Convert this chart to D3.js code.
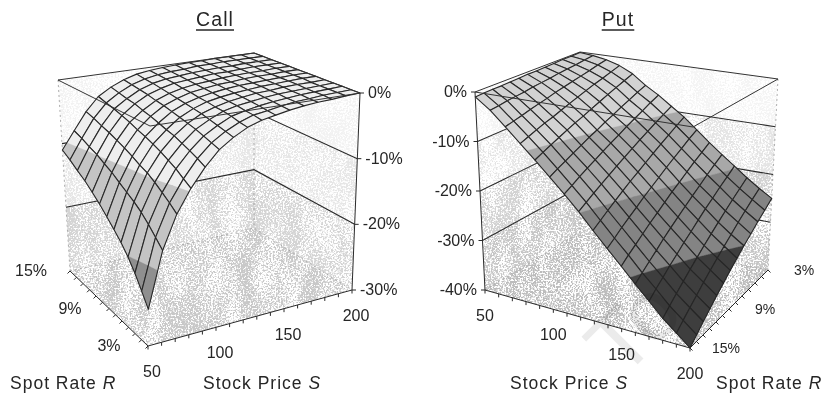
<!DOCTYPE html>
<html>
<head>
<meta charset="utf-8">
<script src="https://cdnjs.cloudflare.com/ajax/libs/d3/7.8.5/d3.min.js"></script>
<style>
  html, body { margin: 0; padding: 0; background: #fff; }
  svg { display: block; filter: blur(0.4px); }
  text { font-family: "Liberation Sans", Arial, sans-serif; fill: #262626; }
</style>
</head>
<body>
<script>
const width = 825
const height = 393

// grid of the surfaces
const stockPrices = [50, 60, 70, 80, 90, 100, 110, 120, 130, 140, 150, 160, 170, 180, 190, 200]
const spotRates = [3, 4, 5, 6, 7, 8, 9, 10, 11, 12, 13, 14, 15]

// tick labels
const stockTicks = [50, 100, 150, 200]
const rateTicks = [3, 9, 15]
const callValueTicks = [0, -10, -20, -30]
const putValueTicks = [0, -10, -20, -30, -40]

// one row per stock price, one column per spot rate (percent change)
const callValues = [
  [-25, -23.3, -21.6, -20.1, -18.8, -17.7, -16.6, -15.5, -14.5, -13.5, -12.7, -11.8, -11],
  [-17.4, -16.3, -15.2, -14.2, -13.4, -12.7, -12, -11.2, -10.6, -9.9, -9.4, -8.8, -8.3],
  [-12.8, -11.9, -11.1, -10.3, -9.6, -9.1, -8.5, -7.9, -7.4, -6.9, -6.5, -6, -5.6],
  [-9.6, -8.9, -8.1, -7.5, -6.9, -6.4, -5.9, -5.5, -5, -4.6, -4.2, -3.9, -3.5],
  [-7, -6.4, -5.9, -5.4, -4.9, -4.6, -4.2, -3.8, -3.5, -3.1, -2.9, -2.6, -2.3],
  [-4.9, -4.5, -4.1, -3.7, -3.4, -3.1, -2.8, -2.5, -2.3, -2, -1.8, -1.6, -1.4],
  [-3.5, -3.2, -2.9, -2.6, -2.3, -2.1, -1.9, -1.7, -1.5, -1.3, -1.1, -1, -0.8],
  [-2.4, -2.2, -1.9, -1.7, -1.6, -1.4, -1.3, -1.1, -1, -0.8, -0.7, -0.6, -0.5],
  [-1.7, -1.5, -1.4, -1.2, -1.1, -1, -0.9, -0.8, -0.7, -0.6, -0.5, -0.4, -0.3],
  [-1.3, -1.2, -1, -0.9, -0.8, -0.7, -0.6, -0.5, -0.5, -0.4, -0.3, -0.3, -0.2],
  [-0.9, -0.8, -0.7, -0.6, -0.5, -0.5, -0.4, -0.4, -0.3, -0.2, -0.2, -0.1, -0.1],
  [-0.6, -0.5, -0.5, -0.4, -0.4, -0.3, -0.3, -0.2, -0.2, -0.2, -0.1, -0.1, -0.1],
  [-0.4, -0.4, -0.3, -0.3, -0.2, -0.2, -0.2, -0.1, -0.1, -0.1, -0.1, 0, 0],
  [-0.3, -0.2, -0.2, -0.2, -0.1, -0.1, -0.1, -0.1, -0.1, 0, 0, 0, 0],
  [-0.1, -0.1, -0.1, -0.1, -0.1, 0, 0, 0, 0, 0, 0, 0, 0],
  [0, 0, 0, 0, 0, 0, 0, 0, 0, 0, 0, 0, 0]
]

const putValues = [
  [-0.1, -0.2, -0.2, -0.3, -0.4, -0.5, -0.5, -0.6, -0.7, -0.8, -0.8, -0.9, -1],
  [-0.4, -0.6, -0.9, -1.1, -1.3, -1.6, -1.8, -2, -2.3, -2.5, -2.7, -3, -3.2],
  [-0.9, -1.3, -1.8, -2.2, -2.6, -3, -3.4, -3.9, -4.3, -4.7, -5.2, -5.6, -6],
  [-1.8, -2.4, -3, -3.5, -4.1, -4.7, -5.3, -5.9, -6.5, -7, -7.6, -8.2, -8.8],
  [-3.2, -3.9, -4.6, -5.3, -6, -6.7, -7.4, -8, -8.7, -9.4, -10.1, -10.8, -11.5],
  [-5.3, -6, -6.8, -7.5, -8.3, -9, -9.8, -10.5, -11.3, -12, -12.8, -13.5, -14.3],
  [-7, -7.8, -8.7, -9.5, -10.3, -11.2, -12, -12.8, -13.7, -14.5, -15.3, -16.2, -17],
  [-9, -9.9, -10.8, -11.7, -12.6, -13.5, -14.4, -15.3, -16.2, -17.1, -18, -18.9, -19.8],
  [-10.9, -11.9, -12.9, -13.9, -14.9, -15.9, -16.9, -17.8, -18.8, -19.8, -20.8, -21.8, -22.8],
  [-13.2, -14.2, -15.3, -16.3, -17.3, -18.4, -19.4, -20.4, -21.5, -22.5, -23.5, -24.6, -25.6],
  [-15.5, -16.6, -17.6, -18.7, -19.8, -20.8, -21.9, -23, -24, -25.1, -26.2, -27.2, -28.3],
  [-17.6, -18.7, -19.8, -21, -22.1, -23.2, -24.3, -25.4, -26.5, -27.7, -28.8, -29.9, -31],
  [-19.6, -20.8, -21.9, -23.1, -24.2, -25.4, -26.6, -27.7, -28.9, -30, -31.2, -32.3, -33.5],
  [-21.6, -22.8, -24, -25.2, -26.4, -27.6, -28.8, -30, -31.2, -32.4, -33.6, -34.8, -36],
  [-23.4, -24.6, -25.8, -27, -28.3, -29.5, -30.7, -31.9, -33.1, -34.4, -35.6, -36.8, -38],
  [-25, -26.3, -27.5, -28.8, -30, -31.3, -32.5, -33.8, -35, -36.3, -37.5, -38.8, -40]
]

const callBandColors = ['#eeeeee', '#c4c4c4', '#8f8f8f']
const putBandColors = ['#d2d2d2', '#a8a8a8', '#848484', '#3e3e3e']

const svg = d3.select('body').append('svg')
  .attr('width', width)
  .attr('height', height)

// speckle of the scanned walls and floor, fine grain over slow clouds
const grain = svg.append('defs').append('filter')
  .attr('id', 'grain')
  .attr('color-interpolation-filters', 'sRGB')
  .attr('x', 0).attr('y', 0).attr('width', 1).attr('height', 1)
grain.append('feTurbulence')
  .attr('type', 'fractalNoise')
  .attr('baseFrequency', 0.6)
  .attr('numOctaves', 2)
  .attr('seed', 4)
  .attr('result', 'fine')
grain.append('feTurbulence')
  .attr('type', 'fractalNoise')
  .attr('baseFrequency', '0.05 0.02')
  .attr('numOctaves', 2)
  .attr('seed', 9)
  .attr('result', 'cloud')
grain.append('feComposite')
  .attr('in', 'fine')
  .attr('in2', 'cloud')
  .attr('operator', 'arithmetic')
  .attr('k1', 0).attr('k2', 1).attr('k3', 0.35).attr('k4', -0.15)
  .attr('result', 'mixed')
grain.append('feColorMatrix')
  .attr('in', 'mixed')
  .attr('values', '0 0 0 0 0  0 0 0 0 0  0 0 0 0 0  0 0 0 6 -2.6')
  .attr('result', 'dots')
grain.append('feComposite')
  .attr('in', 'SourceGraphic')
  .attr('in2', 'dots')
  .attr('operator', 'in')

const line = d3.line()

// cut a cell down to the part that lies between two values
const clipBand = (pts, lo, hi) => {
  const cut = (poly, inside, level) => {
    const out = []
    poly.forEach((p, i) => {
      const q = poly[(i + 1) % poly.length]
      if (inside(p[2])) out.push(p)
      if (inside(p[2]) !== inside(q[2])) {
        const k = (level - p[2]) / (q[2] - p[2])
        out.push([p[0] + k * (q[0] - p[0]), p[1] + k * (q[1] - p[1]), level])
      }
    })
    return out
  }
  return cut(cut(pts, v => v >= lo, lo), v => v <= hi, hi)
}

const drawChart = (c) => {
  const sScale = d3.scaleLinear().domain([50, 200]).range([0, 1])
  const rScale = d3.scaleLinear().domain([3, 15]).range([0, 1])
  const vScale = d3.scaleLinear().domain([0, c.floor]).range([0, 1])

  // trilinear placement between the eight corners of the box
  const project = (s, r, v) => {
    const a = sScale(s), b = rScale(r), d = vScale(v)
    const mix = (k) => d3.sum([0, 1], i => d3.sum([0, 1], j => d3.sum([0, 1], l =>
      (i ? a : 1 - a) * (j ? b : 1 - b) * (l ? d : 1 - d) * c.corners[i][j][l][k])))
    return [mix(0), mix(1)]
  }

  const g = svg.append('g')
  const path3d = (pts) => line(pts.map(p => project(p[0], p[1], p[2])))

  // walls and floor
  const walls = g.append('g').attr('filter', 'url(#grain)')
  const wall = (s0, r0, s1, r1, top, bottom, fill) => walls.append('path')
    .attr('d', path3d([[s0, r0, top], [s1, r1, top], [s1, r1, bottom], [s0, r0, bottom]]) + 'Z')
    .attr('fill', fill)
  c.wallBands.forEach(b => {
    wall(c.leftS, c.leftR, c.backS, c.backR, b.top, b.bottom, b.fill)
    wall(c.backS, c.backR, c.rightS, c.rightR, b.top, b.bottom, b.fill)
  })
  walls.append('path')
    .attr('d', path3d([
      [c.leftS, c.leftR, c.floor], [c.backS, c.backR, c.floor],
      [c.rightS, c.rightR, c.floor], [c.frontS, c.frontR, c.floor]
    ]) + 'Z')
    .attr('fill', c.floorFill)

  // faint back edges
  const faint = g.append('g')
    .attr('fill', 'none')
    .attr('stroke', '#9a9a9a')
    .attr('stroke-width', 0.8)
    .attr('stroke-dasharray', '2 3')
  faint.append('path').attr('d', path3d([[c.leftS, c.leftR, c.floor], [c.backS, c.backR, c.floor], [c.rightS, c.rightR, c.floor]]))
  faint.append('path').attr('d', path3d([[c.backS, c.backR, 0], [c.backS, c.backR, c.floor]]))
  faint.append('path').attr('d', path3d([[c.faintS, c.faintR, 0], [c.faintS, c.faintR, c.floor]]))

  // value lines on the back walls
  g.append('g').selectAll('path')
    .data(c.valueTicks.filter(v => v !== 0 && v !== c.floor))
    .join('path')
    .attr('d', v => path3d([[c.leftS, c.leftR, v], [c.backS, c.backR, v], [c.rightS, c.rightR, v]]))
    .attr('fill', 'none')
    .attr('stroke', '#2b2b2b')
    .attr('stroke-width', 1.1)

  // surface cells, far to near
  const cells = d3.cross(d3.range(stockPrices.length - 1), d3.range(spotRates.length - 1))
    .map(([i, j]) => ({
      i, j,
      depth: Math.abs(stockPrices[i] - c.frontS) / 150 + Math.abs(spotRates[j] - c.frontR) / 12,
      pts: [[i, j], [i + 1, j], [i + 1, j + 1], [i, j + 1]]
        .map(([a, b]) => [stockPrices[a], spotRates[b], c.values[a][b]])
    }))
    .sort((a, b) => d3.descending(a.depth, b.depth))

  const cellG = g.append('g').selectAll('g')
    .data(cells)
    .join('g')

  c.bandColors.forEach((color, k) => {
    const hi = -10 * k
    const lo = -10 * (k + 1)
    cellG.append('path')
      .attr('d', d => {
        const part = clipBand(d.pts, lo, hi)
        return part.length > 2 ? path3d(part) + 'Z' : null
      })
      .attr('fill', color)
      .attr('stroke', color)
      .attr('stroke-width', 0.4)
  })

  cellG.append('path')
    .attr('d', d => path3d(d.pts) + 'Z')
    .attr('fill', 'none')
    .attr('stroke', '#262626')
    .attr('stroke-width', 1.1)
    .attr('stroke-linejoin', 'round')

  // top frame over the surface
  g.append('path')
    .attr('d', path3d([
      [c.leftS, c.leftR, 0], [c.backS, c.backR, 0],
      [c.rightS, c.rightR, 0], [c.frontS, c.frontR, 0]
    ]) + 'Z')
    .attr('fill', 'none')
    .attr('stroke', '#333')
    .attr('stroke-width', 1)

  // value axis edge, then the two floor edges
  const axes = g.append('g').attr('fill', 'none').attr('stroke', '#2b2b2b').attr('stroke-width', 1)
  axes.append('path').attr('d', path3d([[c.axisS, c.axisR, 0], [c.axisS, c.axisR, c.floor]]))
  axes.append('path').attr('d', path3d([[50, c.frontR, c.floor], [200, c.frontR, c.floor]]))
  axes.append('path').attr('d', path3d([[c.frontS, 3, c.floor], [c.frontS, 15, c.floor]]))

  const tick = (p, dx, dy) => {
    const [x, y] = project(p[0], p[1], p[2])
    axes.append('line').attr('x1', x).attr('y1', y).attr('x2', x + dx).attr('y2', y + dy)
  }
  stockPrices.forEach(s => tick([s, c.frontR, c.floor], 0, 3.5))
  spotRates.forEach(r => tick([c.frontS, r, c.floor], c.rateTickDx, 2.5))
  c.valueTicks.forEach(v => tick([c.axisS, c.axisR, v], c.valueTickDx, 0))

  // tick labels
  const labels = g.append('g').attr('font-size', 16)
  const label = (p, dx, dy, str, anchor) => {
    const [x, y] = project(p[0], p[1], p[2])
    return labels.append('text').attr('x', x + dx).attr('y', y + dy).attr('text-anchor', anchor).text(str)
  }
  stockTicks.forEach(s => label([s, c.frontR, c.floor], c.stockDx, 31, s, 'middle'))
  rateTicks.forEach(r => label([c.frontS, r, c.floor], c.rateDx, 5, r + '%', 'middle').attr('font-size', c.rateSize))
  c.valueTicks.forEach(v => label([c.axisS, c.axisR, v], c.valueDx, 5, v + '%', c.valueAnchor))

  // title with its rule
  const title = g.append('text')
    .attr('x', c.titleX)
    .attr('y', 26)
    .attr('text-anchor', 'middle')
    .attr('font-size', 19.5)
    .attr('letter-spacing', 1.1)
    .text(c.title)
  const w = title.node().getComputedTextLength()
  g.append('line')
    .attr('x1', c.titleX - w / 2).attr('x2', c.titleX + w / 2)
    .attr('y1', 30).attr('y2', 30)
    .attr('stroke', '#262626')
    .attr('stroke-width', 1.4)

  // axis names
  const axisName = (x, name, symbol) => {
    const t = g.append('text')
      .attr('x', x).attr('y', 389)
      .attr('font-size', 17.5)
      .attr('letter-spacing', 1)
    t.append('tspan').text(name + ' ')
    t.append('tspan').attr('font-style', 'italic').text(symbol)
  }
  c.names.forEach(n => axisName(n.x, n.name, n.symbol))
}

drawChart({
  title: 'Call',
  titleX: 215,
  values: callValues,
  floor: -30,
  valueTicks: callValueTicks,
  bandColors: callBandColors,
  // corners[s is 200][r is 15][v is floor]
  corners: [
    [[[150, 126], [148, 346]], [[58, 80], [70, 271]]],
    [[[360, 93], [352, 290]], [[254, 53], [254, 228]]]
  ],
  frontS: 50, frontR: 3,
  leftS: 50, leftR: 15,
  backS: 200, backR: 15,
  rightS: 200, rightR: 3,
  axisS: 200, axisR: 3,
  faintS: 50, faintR: 15,
  wallBands: [
    { top: 0, bottom: -10, fill: '#f2f2f2' },
    { top: -10, bottom: -20, fill: '#e6e6e6' },
    { top: -20, bottom: -30, fill: '#d4d4d4' }
  ],
  floorFill: '#c8c8c8',
  stockDx: 4,
  rateDx: -39,
  rateSize: 16,
  rateTickDx: -2.5,
  valueTickDx: 4,
  valueDx: 8,
  valueAnchor: 'start',
  names: [
    { x: 10, name: 'Spot Rate', symbol: 'R' },
    { x: 203, name: 'Stock Price', symbol: 'S' }
  ]
})

drawChart({
  title: 'Put',
  titleX: 618,
  values: putValues,
  floor: -40,
  valueTicks: putValueTicks,
  bandColors: putBandColors,
  corners: [
    [[[580, 52], [580, 232]], [[475, 92], [485, 290]]],
    [[[778, 79], [768, 270]], [[693, 127], [690, 348]]]
  ],
  frontS: 200, frontR: 15,
  leftS: 50, leftR: 15,
  backS: 50, backR: 3,
  rightS: 200, rightR: 3,
  axisS: 50, axisR: 15,
  faintS: 200, faintR: 3,
  wallBands: [
    { top: 0, bottom: -10, fill: '#f4f4f4' },
    { top: -10, bottom: -20, fill: '#e4e4e4' },
    { top: -20, bottom: -30, fill: '#d2d2d2' },
    { top: -30, bottom: -40, fill: '#c6c6c6' }
  ],
  floorFill: '#bcbcbc',
  stockDx: 0,
  rateDx: 36,
  rateSize: 14,
  rateTickDx: 2.5,
  valueTickDx: -4,
  valueDx: -8,
  valueAnchor: 'end',
  names: [
    { x: 510, name: 'Stock Price', symbol: 'S' },
    { x: 716, name: 'Spot Rate', symbol: 'R' }
  ]
})

// faint watermark of the scanned page
svg.append('text')
  .attr('transform', 'translate(622,380) rotate(-45)')
  .attr('font-size', 86)
  .style('fill', '#ebebeb')
  .style('mix-blend-mode', 'multiply')
  .text('To')
</script>
</body>
</html>
